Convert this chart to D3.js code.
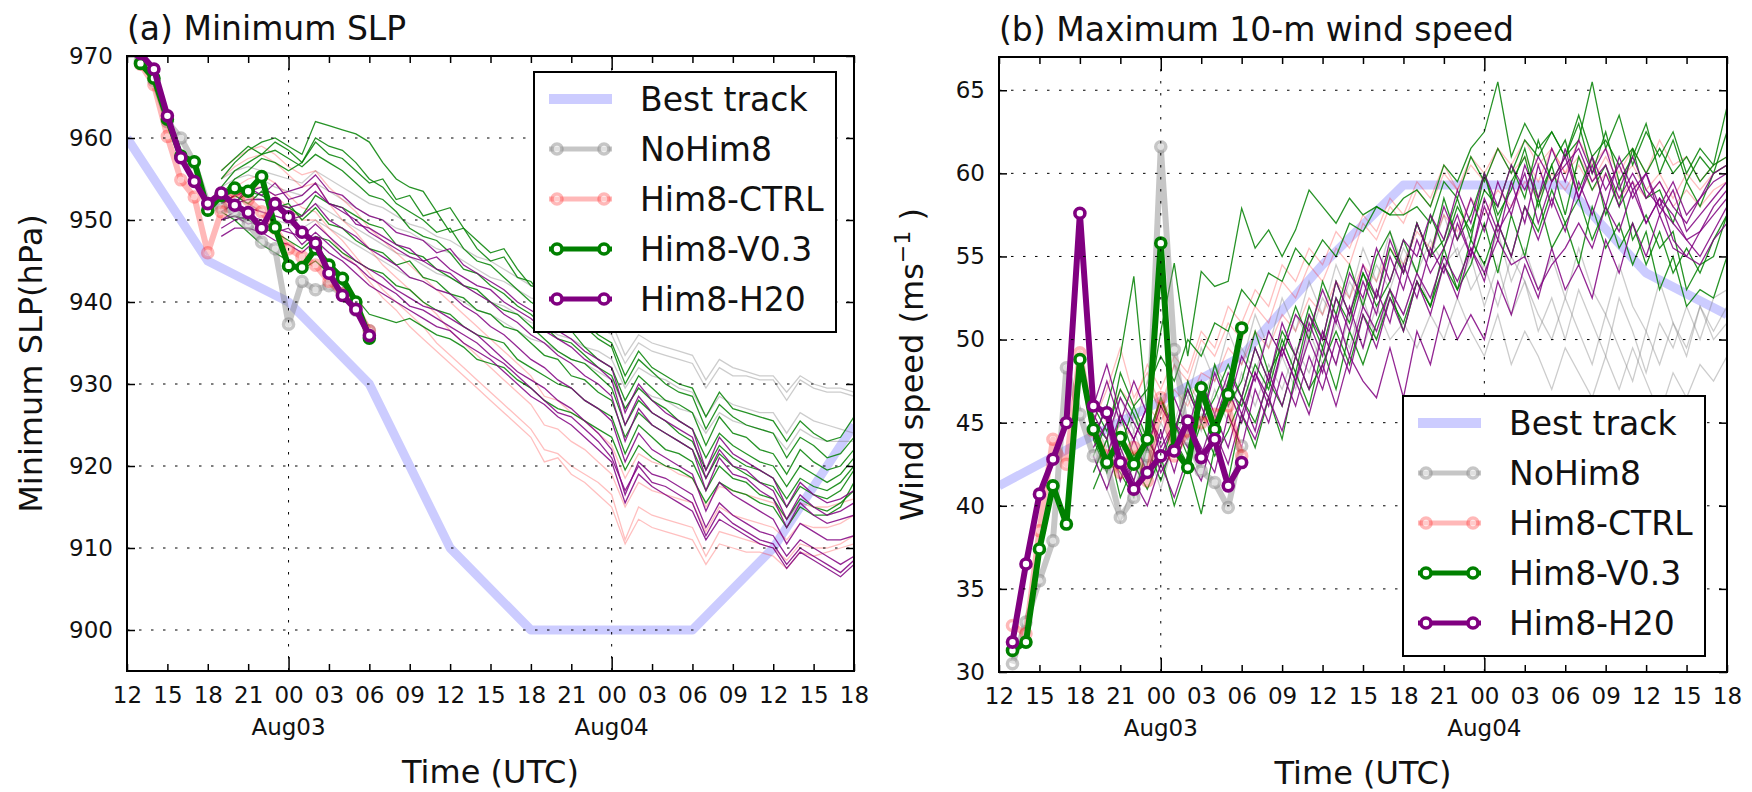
<!DOCTYPE html>
<html>
<head>
<meta charset="utf-8">
<title>Minimum SLP and maximum 10-m wind speed</title>
<script src="https://cdn.jsdelivr.net/npm/d3@7"></script>
<style>
  body { margin: 0; background: #fff; }
  svg { display: block; font-family: "DejaVu Sans", sans-serif; }
</style>
</head>
<body>
<svg id="chart" width="1752" height="792"></svg>
<script>
// time axis: hours since 12 UTC 02 Aug
const tickHours = [0, 3, 6, 9, 12, 15, 18, 21, 24, 27, 30, 33, 36, 39, 42, 45, 48, 51, 54];
const tickLabels = ['12', '15', '18', '21', '00', '03', '06', '09', '12', '15', '18', '21', '00', '03', '06', '09', '12', '15', '18'];
const dayHours = [12, 36];
const dayLabels = ['Aug03', 'Aug04'];

const experiments = ['NoHim8', 'Him8-CTRL', 'Him8-V0.3', 'Him8-H20'];
const expColors = ['#808080', '#ff0000', '#008000', '#800080'];
const thinAlpha = [0.4, 0.25, 0.85, 0.85];
const thickAlpha = [0.45, 0.28, 1, 1];

// best track (6-hourly)
const bestHours = [0, 6, 12, 18, 24, 30, 36, 42, 48, 54];
const bestSlp = [960, 945, 940, 930, 910, 900, 900, 900, 910, 925];
const bestWind = [41.2, 43.8, 46.3, 49, 54.5, 59.3, 59.3, 59.3, 54, 51.5];

// cycling analyses, 13 UTC Aug02 - 06 UTC Aug03
const anaHours = [1, 2, 3, 4, 5, 6, 7, 8, 9, 10, 11, 12, 13, 14, 15, 16, 17, 18];
const anaSlpNoHim8 = [969.5, 967, 962, 960, 957, 952, 951.5, 951, 949.5, 947.3, 946.5, 937.3, 942.5, 941.5, 942, 941, 939, 936.5];
const anaSlpCtrl = [969, 966.5, 960.2, 954.9, 952.8, 946, 951, 953.5, 952.5, 951, 949, 946.5, 945.5, 944.5, 942.5, 941, 939.5, 936.5];
const anaSlpV03 = [969.1, 967.3, 962.3, 957.8, 957.1, 951.2, 953, 953.9, 953.5, 955.3, 949.1, 944.4, 944.2, 946.5, 944.5, 942.9, 940, 935.6];
const anaSlpH20 = [970.3, 968.4, 962.7, 957.6, 954.7, 952, 953.3, 951.8, 950.9, 949, 952, 950.4, 948.5, 947.2, 943.5, 940.8, 939.1, 935.9];

const anaWindNoHim8 = [30.5, 33, 35.5, 37.9, 48.3, 45.5, 43, 42.5, 39.3, 40.5, 43, 61.6, 49.4, 44, 42.1, 41.4, 39.9, 43.6];
const anaWindCtrl = [32.8, 32.3, 38.5, 44, 42.5, 49.2, 44.5, 43, 42, 43.5, 41.5, 46.5, 43, 44.5, 45, 45.5, 46, 43];
const anaWindV03 = [31.3, 31.8, 37.4, 41.2, 38.9, 48.8, 44.6, 42.6, 44.1, 42.5, 44, 55.8, 43.4, 42.3, 47.1, 44.6, 46.7, 50.7];
const anaWindH20 = [31.8, 36.5, 40.7, 42.8, 45, 57.6, 46, 45.6, 42.6, 41, 42, 43, 43.3, 45.1, 42.9, 44, 41.2, 42.6];

// ensemble forecast members, hourly 19 UTC Aug02 - 18 UTC Aug04
const ensHours = [7, 8, 9, 10, 11, 12, 13, 14, 15, 16, 17, 18, 19, 20, 21, 22, 23, 24, 25, 26, 27, 28, 29, 30,
  31, 32, 33, 34, 35, 36, 37, 38, 39, 40, 41, 42, 43, 44, 45, 46, 47, 48, 49, 50, 51, 52, 53, 54];

const ensSlpNoHim8 = [
  [954, 955, 955.5, 955, 954, 953.5, 953, 954.5, 953.5, 952.5, 951.5, 950.5, 950, 949, 948.5, 947.5, 946.5, 946, 945, 944, 943, 942.5, 941.5, 940.5,
   940, 939, 938.5, 937.5, 937, 936, 932.5, 935, 934, 933.5, 933, 932.5, 929.5, 932, 931, 931, 930.5, 930.5, 928, 930.5, 929.5, 929, 929, 928.5],
  [953, 953.5, 953, 952.5, 952, 951, 950.5, 952, 951, 950, 949, 948, 947, 946, 945.5, 944.5, 943.5, 943, 942, 941, 940, 939.5, 938.5, 937.5,
   937, 936, 935.5, 934.5, 934, 933, 929.5, 932, 931, 930.5, 929.5, 929, 926, 928.5, 927.5, 927, 926.5, 926.5, 924, 926.5, 925.5, 925, 924.5, 924],
  [952, 952.5, 952, 951, 950, 949.5, 949, 950, 949, 948, 947, 946, 945, 944, 943, 942.5, 941.5, 941, 940, 939, 938.5, 937.5, 936.5, 935.5,
   935, 934, 933, 932.5, 931.5, 930.5, 927, 929.5, 928.5, 928, 927, 926.5, 924, 926.5, 925.5, 925, 924.5, 924, 922, 924.5, 923.5, 923, 923, 923],
  [955, 956, 956.5, 956, 955.5, 955, 954.5, 956, 955, 954, 953, 952, 951.5, 950.5, 949.5, 949, 948, 947.5, 946.5, 945.5, 945, 944, 943, 942,
   941.5, 940.5, 940, 939, 938.5, 937.5, 933.5, 936, 935, 934.5, 934, 933.5, 930.5, 933, 932, 931.5, 931, 931, 929, 931, 930, 929.5, 929.5, 929]
];
const ensSlpCtrl = [
  [955, 956.5, 957.5, 958, 957, 955.5, 954, 954.5, 952, 950, 948.5, 946.5, 944.5, 943, 941.5, 940, 938.5, 936.5, 935, 933.5, 932, 930.5, 929, 927.5,
   925, 924.5, 923, 922, 920.5, 919, 915, 918, 917, 916.5, 916, 915.5, 912, 915, 914, 913.5, 913, 912.5, 911, 913, 912.5, 912.5, 913, 914],
  [953, 954, 955, 955.5, 954.5, 953, 951.5, 951, 949, 947.5, 945.5, 943.5, 941.5, 940, 938.5, 937, 935, 933.5, 932, 930.5, 929, 927.5, 926, 924.5,
   922, 921.5, 920, 919, 918, 916.5, 911, 915, 914, 913.5, 913, 912.5, 909, 912, 911.5, 911, 910.5, 910, 908.5, 910.5, 910, 910, 910.5, 911.5],
  [956, 957.5, 958.5, 959, 958, 956.5, 955.5, 956, 954, 952.5, 951, 949, 947.5, 946, 944.5, 943, 941.5, 940, 938.5, 937, 935.5, 934, 932.5, 931,
   928.5, 928, 926.5, 925.5, 924, 922.5, 918.5, 921.5, 920.5, 920, 919, 918.5, 915, 917.5, 917, 916.5, 916, 915.5, 913.5, 915.5, 915, 915, 915.5, 916],
  [952, 953, 954, 954, 953, 951.5, 950, 950, 948, 946, 944.5, 942.5, 940.5, 939, 937, 935.5, 934, 932.5, 931, 929.5, 928, 926.5, 925, 923.5,
   920.5, 921, 919, 918, 916.5, 915, 910.5, 913.5, 912.5, 912, 911.5, 911, 908, 910.5, 910, 909.5, 909.5, 909, 907.5, 909.5, 909, 909.5, 910, 910.5]
];
const ensSlpV03 = [
  [955, 957, 958.5, 959.5, 960, 959, 958, 962, 961.5, 961, 960.5, 959.5, 957, 955, 954, 953.5, 951, 951.5, 949, 947.5, 946, 946.5, 944, 942,
   941.5, 939.5, 938, 937.5, 936, 935, 931, 934, 932, 931, 930, 929.5, 926, 929, 927, 926.5, 926, 925.5, 923, 925.5, 924, 923, 923.5, 926],
  [953, 955, 956, 957.5, 957, 956, 957, 960, 959, 958.5, 957, 955, 954, 952, 951, 950, 948.5, 949, 946.5, 945, 944.5, 943, 941.5, 940,
   939, 937, 936.5, 934.5, 933, 932, 928, 931, 929.5, 928, 927.5, 926.5, 922.5, 926, 924, 923.5, 922, 921.5, 919, 922, 920.5, 919.5, 920, 922],
  [951, 952, 953.5, 953, 952, 951.5, 950.5, 953, 952, 951.5, 950.5, 949.5, 949, 947, 946, 945.5, 944, 943, 942, 941.5, 940, 939, 938.5, 937,
   935.5, 934, 933, 932.5, 931, 929.5, 925, 928, 926.5, 925.5, 924, 923, 919.5, 922.5, 921, 920, 919.5, 918.5, 916, 918.5, 917.5, 917, 918, 920],
  [950, 950.5, 950, 949, 948.5, 947.5, 946.5, 948, 947.5, 946, 945, 944, 943.5, 942, 941.5, 940, 939, 938.5, 937, 936, 935.5, 935, 933, 932,
   931, 930, 929.5, 928, 927, 926, 921.5, 925, 923.5, 922, 921.5, 920.5, 917, 920, 918.5, 918, 916.5, 916, 913.5, 916, 915, 914.5, 915.5, 917],
  [951, 950, 948.5, 947, 946, 945, 944, 945, 943.5, 942, 940.5, 938.5, 938, 937.5, 938, 937, 936, 935.5, 934.5, 933, 932.5, 932, 930.5, 929.5,
   928, 927, 926.5, 925.5, 924.5, 923.5, 919.5, 922.5, 921, 920, 919.5, 918.5, 915.5, 918, 917, 916.5, 915.5, 915, 912.5, 915, 914, 914, 915, 918],
  [954, 956, 957, 958, 958.5, 957.5, 956.5, 958, 957, 956, 954.5, 953, 952.5, 951, 949, 948, 947.5, 946, 944, 943.5, 942, 941, 939.5, 938.5,
   937, 935.5, 935, 933.5, 932, 931, 927, 929.5, 928, 927, 925.5, 924.5, 921, 924, 922.5, 921.5, 920.5, 920, 917.5, 920, 919, 918, 919, 921],
  [956, 957.5, 959, 958, 959.5, 958.5, 957, 959.5, 958, 957.5, 956, 954.5, 955, 952.5, 953, 950.5, 951, 948.5, 949, 946.5, 945, 945.5, 943, 942.5,
   940.5, 940, 938, 937, 935.5, 934.5, 930, 933, 931.5, 930, 929, 928.5, 924.5, 927.5, 926, 925, 924.5, 924, 921, 923.5, 922.5, 921, 921.5, 923.5],
  [952, 953, 952, 953.5, 951.5, 952, 950, 951.5, 949.5, 949, 947.5, 946.5, 946, 944.5, 945, 943, 942.5, 941, 940.5, 939, 938.5, 937, 936.5, 935,
   933.5, 933, 931, 930.5, 929, 928, 923.5, 926.5, 925, 924, 923, 922, 918.5, 921.5, 920, 919, 918, 917.5, 915, 917.5, 916.5, 916, 917, 919.5]
];
const ensSlpH20 = [
  [952, 953, 953.5, 954, 953, 953.5, 954, 955.5, 953.5, 953, 951.5, 950.5, 950, 948.5, 948, 947.5, 946, 946.5, 944.5, 943.5, 942.5, 941.5, 940, 939,
   938, 936.5, 935.5, 934, 933, 932, 926.5, 930, 928, 926.5, 925.5, 924.5, 919.5, 923.5, 921.5, 920.5, 919.5, 918.5, 915, 918, 916.5, 915.5, 916, 917],
  [951, 952, 952.5, 952.5, 952, 951.5, 952, 953.5, 952, 951, 950, 948.5, 947.5, 946.5, 945.5, 945, 944, 943.5, 942, 941, 940, 938.5, 937.5, 936,
   935, 933.5, 932.5, 931, 930, 928.5, 923, 927, 925, 924, 923, 922, 917, 921, 919, 918.5, 917, 916, 912.5, 915.5, 914, 913, 913.5, 914],
  [950, 951, 951.5, 951, 950.5, 950, 950.5, 952, 950, 949, 948, 946.5, 945.5, 944.5, 943, 942.5, 941.5, 941, 939.5, 938.5, 937, 936, 934.5, 933,
   932, 930.5, 929.5, 928, 927, 925.5, 920.5, 924, 922, 921, 920, 919, 914.5, 918, 916.5, 915.5, 914.5, 913.5, 910.5, 913, 912, 911, 911, 911.5],
  [949, 950, 950.5, 950, 949, 948.5, 948, 949.5, 948, 946.5, 945, 944, 943, 941.5, 940.5, 939.5, 939, 938, 937, 936, 934.5, 933, 931.5, 930.5,
   929.5, 928, 927, 925.5, 924, 922, 916.5, 920.5, 919, 918.5, 917.5, 916.5, 912.5, 915.5, 914, 913, 912, 911.5, 909, 911, 910, 909, 908, 909],
  [948, 949, 949, 948.5, 947.5, 947, 946, 947.5, 946, 945, 943.5, 942, 941, 940, 939, 938, 937, 936.5, 935, 934, 933, 931.5, 930, 928.5,
   927.5, 926, 925, 923.5, 922, 920.5, 915.5, 919, 917.5, 916.5, 915.5, 914.5, 911, 913.5, 912.5, 911.5, 910.5, 910, 907.5, 909.5, 908.5, 907.5, 906.5, 908],
  [953, 952, 954, 953, 954.5, 952.5, 953, 954.5, 952, 951.5, 949.5, 949, 948, 947, 946.5, 945, 945.5, 944, 943, 942, 941.5, 940, 939, 938,
   936.5, 935.5, 934.5, 933, 932, 930.5, 925, 928.5, 926.5, 925.5, 924.5, 923.5, 918.5, 922, 920, 919.5, 918, 917, 913.5, 916.5, 915, 914, 914.5, 915.5],
  [950, 950.5, 949.5, 950, 948.5, 949, 947, 948.5, 947, 945.5, 944.5, 943, 942, 941, 939.5, 939, 938, 937, 936, 935, 933.5, 932.5, 931, 929.5,
   928, 926.5, 926, 924.5, 923, 921, 917, 920, 918, 917.5, 916.5, 915.5, 911.5, 914.5, 913, 912, 911, 910.5, 908, 910, 909, 908, 907, 908.5]
];

const ensWindNoHim8 = [
  [43, 41, 39, 41.5, 43.5, 41, 44, 42.5, 45.5, 44, 47, 45, 48, 46.5, 49, 47, 50.5, 48.5, 51, 49.5, 52.5, 50, 53, 51.5,
   54, 52, 54.5, 53, 55, 52, 54.5, 51.5, 53.5, 50.5, 52.5, 50, 53, 51, 49, 52.5, 50.5, 48, 51, 49.5, 52, 50, 52.5, 53],
  [44, 46, 43, 45.5, 44, 46.5, 45, 47.5, 46, 48.5, 47, 49.5, 48, 50.5, 49, 51.5, 50, 52.5, 51, 53.5, 52, 54.5, 53, 55.5,
   54, 56, 54.5, 55.5, 53, 54.5, 52, 55, 53.5, 51.5, 50, 52.5, 50.5, 48.5, 51.5, 49.5, 47.5, 50.5, 48.5, 51, 49, 52, 50.5, 52],
  [42, 44, 41.5, 44.5, 42.5, 45, 43.5, 46.5, 44.5, 47, 45, 48, 46, 48.5, 47, 49.5, 48, 50.5, 48.5, 51.5, 49.5, 52, 50, 51,
   49.5, 51.5, 50, 52.5, 50.5, 49, 51.5, 48.5, 50.5, 49, 47, 49.5, 48, 46.5, 49, 47, 49.5, 47.5, 45.5, 48, 46.5, 48.5, 47.5, 49],
  [45, 43.5, 46.5, 44.5, 47.5, 45.5, 48.5, 46.5, 49.5, 47.5, 50.5, 48.5, 51.5, 49.5, 52.5, 50.5, 53.5, 51.5, 54.5, 52.5, 55.5, 53.5, 56.5, 54.5,
   57, 55, 57.5, 55, 56.5, 54, 56.5, 53.5, 55.5, 53, 55, 52.5, 55.5, 53, 51.5, 54.5, 52, 50.5, 53.5, 51, 49.5, 52, 50, 51]
];
const ensWindCtrl = [
  [45, 47, 49.5, 46.5, 48, 46, 48.5, 47.5, 50, 49, 51, 50, 52, 51, 53.5, 52.5, 54.5, 53.5, 55.5, 54.5, 57, 56, 58, 57,
   59, 58, 60, 59, 60.5, 59.5, 61.5, 60, 61, 59.5, 61.5, 60, 62, 60.5, 61.5, 60, 61.5, 60, 62, 60.5, 61, 59.5, 60.5, 61],
  [44, 43, 45, 44, 46, 45, 47, 46, 48, 47.5, 49.5, 48.5, 50.5, 49.5, 51.5, 50.5, 52.5, 51.5, 53.5, 52.5, 54.5, 53.5, 55.5, 54.5,
   56.5, 55.5, 57.5, 56.5, 58.5, 57.5, 59, 58, 59.5, 58.5, 60, 59, 60.5, 59, 60, 58.5, 59.5, 58.5, 59.5, 58, 59, 58, 59, 59.5],
  [46.5, 45, 47, 46, 48.5, 47, 49, 48, 50.5, 49.5, 52, 51, 53, 52, 54.5, 53.5, 55.5, 54.5, 56.5, 55.5, 57.5, 56.5, 58.5, 57.5,
   59.5, 58.5, 60.5, 59, 61, 60, 61.5, 60.5, 62, 60.5, 61.5, 60, 61, 59.5, 61, 59.5, 60.5, 59, 60, 58.5, 60, 59, 60, 60.5]
];
const ensWindV03 = [
  [45, 44, 48, 46, 47, 49, 47.5, 50, 49, 51, 50.5, 53, 52, 54, 53.5, 55.5, 54.5, 56, 55, 57, 56.5, 58, 57.5, 58.5,
   59, 58, 60.5, 59.5, 61.5, 62.5, 65.5, 61, 63, 61.5, 62.5, 61, 62, 65.5, 61.5, 63.5, 60.5, 62.5, 61, 62.5, 60, 61.5, 60.5, 64],
  [44, 46, 49, 53.8, 45.5, 50.5, 54.6, 49, 54.1, 53.2, 53.5, 57.9, 55.5, 56.6, 55, 56.6, 59, 58, 57, 58.5, 57.5, 58, 57.5, 57.5,
   58, 57, 59.5, 58.5, 61, 59.5, 61.5, 60, 62, 61, 62.5, 61, 63.5, 61, 62, 60.5, 61.5, 60, 61.5, 60, 61, 59.5, 60.5, 61],
  [44, 42, 45.5, 43, 44, 46.5, 44.5, 47, 45, 48.5, 46, 47.5, 50.5, 48, 49.5, 52, 50, 53.5, 51.5, 54.5, 52, 55, 56.5, 54,
   57, 55, 58.5, 56, 57.5, 60, 57, 59.5, 61, 58, 60.5, 57.5, 61, 59, 60.5, 58, 61.5, 58.5, 59, 57, 59.5, 58, 60, 60.5],
  [42, 44, 40.5, 42.5, 41, 43, 40, 42.5, 39.5, 43.5, 41.5, 45.5, 43.5, 46.5, 44, 48, 46, 49.5, 47, 50.5, 48.5, 51, 53, 50.5,
   53.5, 52, 55.5, 53, 54.5, 57, 54, 57.5, 55, 58.5, 55.5, 57, 54.5, 58, 55.5, 57, 54.5, 56.5, 53, 55, 52, 53, 52.5, 55],
  [46, 44.5, 47, 45.5, 43.5, 46.5, 44, 47.5, 45, 46.5, 48.5, 46.5, 49.5, 47.5, 50.5, 49, 52, 50, 53.5, 51.5, 54, 52.5, 55.5, 54,
   57, 55, 56, 58.5, 56, 60, 57.5, 59, 61.5, 58.5, 60.5, 62, 59, 61, 57.5, 59.5, 56, 57.5, 55.5, 56.5, 53, 54.5, 55, 57.5],
  [43, 45, 43.5, 46, 44, 42.5, 45, 43, 46.5, 44.5, 47, 46, 48.5, 47, 50, 48, 51.5, 49.5, 52.5, 51, 54, 52, 53.5, 56,
   54, 57.5, 55.5, 58, 56.5, 59, 58, 60.5, 58.5, 62, 59.5, 61, 63, 60, 62.5, 59.5, 61, 63, 60, 62, 59.5, 61, 60, 62.5],
  [41, 43, 42, 40.5, 43.5, 41.5, 44, 42.5, 45, 43, 44.5, 46.5, 45, 47.5, 46, 49, 47, 48.5, 50.5, 48.5, 51.5, 50, 52.5, 51,
   53.5, 52, 54.5, 53, 56, 54.5, 57, 55, 58, 56.5, 59, 57, 58.5, 56, 58, 55.5, 57, 54.5, 56.5, 54, 55.5, 54, 56, 57.5]
];
const ensWindH20 = [
  [46, 48.5, 45.5, 44, 46, 43, 45, 43.5, 46, 44, 47, 45, 48, 46, 49.5, 47.5, 51, 49, 52.5, 50.5, 53.5, 51.5, 55, 53,
   56, 54, 55.5, 57.5, 55, 58.5, 56.5, 58, 60, 57, 59.5, 61, 58.5, 60.5, 58, 61, 59, 60, 57.5, 59, 56.5, 57.5, 58.5, 59.5],
  [44, 46, 43, 41.5, 44.5, 42, 43.5, 45, 43, 45.5, 43.5, 46.5, 44.5, 48, 46, 49, 47, 50.5, 48.5, 52, 49.5, 53, 51, 54.5,
   52.5, 55.5, 54, 57, 55, 58, 56, 59.5, 57, 60.5, 58, 61.5, 58.5, 61, 59, 60.5, 58.5, 60, 58, 59.5, 57.5, 58.5, 60, 60.5],
  [43, 41, 43.5, 41.5, 40, 42.5, 40.5, 43, 41.5, 44.5, 42.5, 45.5, 44, 46.5, 44.5, 47.5, 45.5, 48.5, 46, 49, 47.5, 46.5, 49.5, 46.5,
   50.5, 48.5, 52, 50, 51.5, 50, 53.5, 51.5, 54.5, 52.5, 55.5, 53, 54.5, 52.5, 56, 54, 57, 55, 57.5, 55.5, 55, 56.5, 57.5, 58.5],
  [45, 47.5, 45, 47.5, 45.5, 44, 46.5, 44.5, 47.5, 45.5, 48, 46.5, 49.5, 47.5, 51, 49, 51.5, 50, 53.5, 51.5, 54.5, 52.5, 56, 54,
   57, 55, 58, 56, 58.5, 56.5, 59.5, 57.5, 60.5, 58.5, 61.5, 59.5, 62, 60, 61.5, 59, 61, 59, 58, 57, 56, 55, 56.5, 58],
  [43.5, 45, 41.5, 44, 42, 44.5, 42, 45, 43.5, 42, 45.5, 43.5, 47, 45, 48, 46, 49, 47, 50, 48, 51.5, 49.5, 52.5, 50.5,
   53.5, 51.5, 54.5, 52.5, 55.5, 53.5, 57, 55, 58, 56, 58.5, 56.5, 59.5, 57.5, 60, 58, 59.5, 57, 58.5, 56, 55, 54.5, 56, 57],
  [44.5, 43, 45.5, 44, 46, 43.5, 45, 44, 46.5, 45, 47.5, 45.5, 48, 46.5, 49.5, 47.5, 50, 48, 51.5, 49, 52, 50.5, 53, 51.5,
   54, 52.5, 55, 53.5, 55.5, 54, 56, 54.5, 55, 53, 54.5, 55.5, 57, 55.5, 58, 56.5, 59, 57, 58.5, 57.5, 56, 56.5, 58, 59],
  [45.5, 44, 46.5, 45, 43.5, 46, 44.5, 47, 45, 48, 46, 49, 47.5, 50.5, 49, 51.5, 50.5, 53, 51, 54, 52.5, 55.5, 53.5, 56,
   55, 57.5, 56, 59, 57, 60, 58, 60.5, 59, 61, 59.5, 60.5, 61.5, 59.5, 60.5, 58.5, 60, 58.5, 59.5, 58, 57, 58.5, 59.5, 60]
];

class TrackPanel {
  constructor(_config, _data) {
    this.config = _config;
    this.data = _data;
    this.initVis();
  }

  initVis() {
    let vis = this;
    const c = vis.config;

    vis.xScale = d3.scaleLinear().domain([0, 54]).range([0, c.width]);
    vis.yScale = d3.scaleLinear().domain(c.yDomain).range([c.height, 0]);

    vis.svg = d3.select(c.parentElement);
    vis.chart = vis.svg.append('g')
        .attr('transform', `translate(${c.left},${c.top})`);

    vis.chart.append('clipPath').attr('id', 'clip-' + c.id)
      .append('rect').attr('width', c.width).attr('height', c.height);
    vis.plot = vis.chart.append('g').attr('clip-path', `url(#clip-${c.id})`);

    vis.renderVis();
  }

  renderVis() {
    let vis = this;
    const c = vis.config;
    const line = d3.line().x(d => vis.xScale(d[0])).y(d => vis.yScale(d[1]));

    // best track underneath
    vis.plot.append('path')
        .datum(d3.zip(bestHours, vis.data.best))
        .attr('d', line)
        .attr('fill', 'none')
        .attr('stroke', 'rgba(0,0,255,0.2)')
        .attr('stroke-width', 9)
        .attr('stroke-linejoin', 'round');

    // ensemble members
    vis.data.ens.forEach((members, k) => {
      members.forEach(m => {
        vis.plot.append('path')
            .datum(d3.zip(ensHours, m))
            .attr('d', line)
            .attr('fill', 'none')
            .attr('stroke', expColors[k])
            .attr('stroke-opacity', thinAlpha[k])
            .attr('stroke-width', 1.3);
      });
    });

    // analyses with circles
    vis.data.ana.forEach((vals, k) => {
      const pts = d3.zip(anaHours, vals);
      const g = vis.plot.append('g');
      g.append('path')
          .datum(pts)
          .attr('d', line)
          .attr('fill', 'none')
          .attr('stroke', expColors[k])
          .attr('stroke-opacity', thickAlpha[k])
          .attr('stroke-width', 6)
          .attr('stroke-linejoin', 'round');
      g.selectAll('circle')
        .data(pts)
        .join('circle')
          .attr('cx', d => vis.xScale(d[0]))
          .attr('cy', d => vis.yScale(d[1]))
          .attr('r', 5)
          .attr('fill', '#fff')
          .attr('fill-opacity', thickAlpha[k])
          .attr('stroke', expColors[k])
          .attr('stroke-opacity', thickAlpha[k])
          .attr('stroke-width', 3.6);
    });

    // grid on top (classic style)
    const grid = vis.chart.append('g')
        .attr('stroke', '#000')
        .attr('stroke-width', 1)
        .attr('stroke-dasharray', '2.5,9.5');
    grid.selectAll('.hgrid')
      .data(c.yTicks)
      .join('line')
        .attr('x1', 0).attr('x2', c.width)
        .attr('y1', d => vis.yScale(d)).attr('y2', d => vis.yScale(d));
    grid.selectAll('.vgrid')
      .data(dayHours)
      .join('line')
        .attr('x1', d => vis.xScale(d)).attr('x2', d => vis.xScale(d))
        .attr('y1', 0).attr('y2', c.height);

    // axes, ticks pointing inward
    const fontFam = '"DejaVu Sans", sans-serif';
    const xb = vis.chart.append('g')
        .attr('transform', `translate(0,${c.height})`)
        .call(d3.axisBottom(vis.xScale).tickValues(tickHours).tickSize(-7).tickPadding(16)
          .tickFormat((d, i) => tickLabels[i]));
    xb.selectAll('.tick line').attr('y2', d => dayHours.includes(d) ? -14 : -7).attr('stroke-width', 1.5);
    xb.selectAll('text').attr('font-size', 23).attr('font-family', fontFam).attr('fill', '#111');

    const xt = vis.chart.append('g')
        .call(d3.axisTop(vis.xScale).tickValues(tickHours).tickSize(-7).tickFormat(''));
    xt.selectAll('.tick line').attr('y2', d => dayHours.includes(d) ? 14 : 7).attr('stroke-width', 1.5);

    const yl = vis.chart.append('g')
        .call(d3.axisLeft(vis.yScale).tickValues(c.yTicks).tickSize(-8).tickPadding(14));
    yl.selectAll('.tick line').attr('stroke-width', 1.5);
    yl.selectAll('text').attr('font-size', 23).attr('font-family', fontFam).attr('fill', '#111');

    const yr = vis.chart.append('g')
        .attr('transform', `translate(${c.width},0)`)
        .call(d3.axisRight(vis.yScale).tickValues(c.yTicks).tickSize(-8).tickFormat(''));
    yr.selectAll('.tick line').attr('stroke-width', 1.5);

    vis.chart.selectAll('.domain').remove();

    // day labels below the 00 ticks
    vis.chart.selectAll('.daylab')
      .data(dayHours)
      .join('text')
        .attr('x', d => vis.xScale(d))
        .attr('y', c.height + 64)
        .attr('text-anchor', 'middle')
        .attr('font-size', 23)
        .attr('fill', '#111')
        .text((d, i) => dayLabels[i]);

    // frame
    vis.chart.append('rect')
        .attr('width', c.width)
        .attr('height', c.height)
        .attr('fill', 'none')
        .attr('stroke', '#000')
        .attr('stroke-width', 2);

    // title and labels
    vis.chart.append('text')
        .attr('x', 0)
        .attr('y', -16)
        .attr('font-size', 33)
        .attr('fill', '#111')
        .text(c.title);

    vis.chart.append('text')
        .attr('x', c.width / 2)
        .attr('y', c.height + 112)
        .attr('text-anchor', 'middle')
        .attr('font-size', 32)
        .attr('fill', '#111')
        .text('Time (UTC)');

    const ylab = vis.chart.append('text')
        .attr('transform', `translate(${c.ylabelX},${c.height / 2}) rotate(-90)`)
        .attr('text-anchor', 'middle')
        .attr('font-size', 32)
        .attr('fill', '#111');
    ylab.append('tspan').text(c.ylabel);
    if (c.ylabelSup) {
      ylab.append('tspan').attr('dy', -13).attr('font-size', 22).text(c.ylabelSup);
      ylab.append('tspan').attr('dy', 13).text(' )');
    }

    vis.renderLegend();
  }

  renderLegend() {
    let vis = this;
    const c = vis.config;
    const lg = vis.chart.append('g')
        .attr('transform', `translate(${c.legend.x - c.left},${c.legend.y - c.top})`);
    lg.append('rect')
        .attr('width', 302)
        .attr('height', 260)
        .attr('fill', '#fff')
        .attr('stroke', '#000')
        .attr('stroke-width', 2);

    const rows = ['Best track'].concat(experiments);
    rows.forEach((name, i) => {
      const y = 27 + i * 50;
      if (i === 0) {
        lg.append('line')
            .attr('x1', 15).attr('x2', 78).attr('y1', y).attr('y2', y)
            .attr('stroke', 'rgba(0,0,255,0.2)').attr('stroke-width', 10);
      } else {
        const k = i - 1;
        lg.append('line')
            .attr('x1', 15).attr('x2', 78).attr('y1', y).attr('y2', y)
            .attr('stroke', expColors[k]).attr('stroke-opacity', thickAlpha[k]).attr('stroke-width', 5);
        [23, 70].forEach(cx => {
          lg.append('circle')
              .attr('cx', cx).attr('cy', y).attr('r', 5)
              .attr('fill', '#fff').attr('fill-opacity', thickAlpha[k])
              .attr('stroke', expColors[k]).attr('stroke-opacity', thickAlpha[k])
              .attr('stroke-width', 3.6);
        });
      }
      lg.append('text')
          .attr('x', 106)
          .attr('y', y + 12)
          .attr('font-size', 33)
          .attr('fill', '#111')
          .text(name);
    });
  }
}

new TrackPanel({
  parentElement: '#chart', id: 'a',
  left: 127, top: 56, width: 727, height: 615,
  yDomain: [895, 970], yTicks: [900, 910, 920, 930, 940, 950, 960, 970],
  title: '(a) Minimum SLP', ylabel: 'Minimum SLP(hPa)', ylabelX: -85,
  legend: { x: 534, y: 72 }
}, {
  best: bestSlp,
  ana: [anaSlpNoHim8, anaSlpCtrl, anaSlpV03, anaSlpH20],
  ens: [ensSlpNoHim8, ensSlpCtrl, ensSlpV03, ensSlpH20]
});

new TrackPanel({
  parentElement: '#chart', id: 'b',
  left: 999, top: 57, width: 728, height: 615,
  yDomain: [30, 67], yTicks: [30, 35, 40, 45, 50, 55, 60, 65],
  title: '(b) Maximum 10-m wind speed', ylabel: 'Wind speed (ms', ylabelSup: '\u22121', ylabelX: -76,
  legend: { x: 1403, y: 396 }
}, {
  best: bestWind,
  ana: [anaWindNoHim8, anaWindCtrl, anaWindV03, anaWindH20],
  ens: [ensWindNoHim8, ensWindCtrl, ensWindV03, ensWindH20]
});
</script>
</body>
</html>
